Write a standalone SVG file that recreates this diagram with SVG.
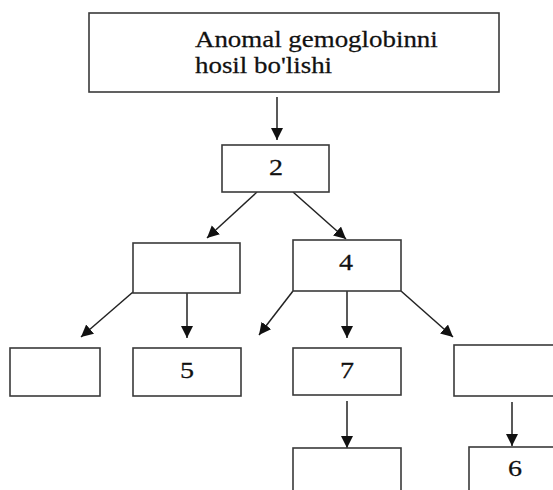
<svg xmlns="http://www.w3.org/2000/svg" width="553" height="490" viewBox="0 0 553 490">
<style>
.box{fill:#fff;stroke:#3a3a3a;stroke-width:1.6}
.lbl{font-family:"Liberation Serif","Times New Roman",serif;font-size:23px;fill:#111;stroke:#111;stroke-width:0.25}
.num{font-family:"Liberation Serif","Times New Roman",serif;font-size:24px;fill:#111;stroke:#111;stroke-width:0.25;text-anchor:middle}
.con{stroke:#222;stroke-width:1.5;fill:none;marker-end:url(#ah)}
</style>
<defs>
<marker id="ah" markerUnits="userSpaceOnUse" markerWidth="14" markerHeight="14" refX="12" refY="6" orient="auto">
<path d="M0,0 L12,6 L0,12 z" fill="#111"/>
</marker>
</defs>
<rect width="553" height="490" fill="#fff"/>
<g id="connectors">
<line class="con" x1="277" y1="97" x2="277" y2="140"/>
<line class="con" x1="257" y1="192" x2="207" y2="238"/>
<line class="con" x1="293" y1="192" x2="346" y2="239"/>
<line class="con" x1="133" y1="292" x2="81" y2="337"/>
<line class="con" x1="187" y1="290" x2="187" y2="338"/>
<line class="con" x1="293" y1="291" x2="259" y2="335"/>
<line class="con" x1="347" y1="291" x2="347" y2="338"/>
<line class="con" x1="401" y1="291" x2="453" y2="337"/>
<line class="con" x1="347" y1="401" x2="347" y2="448"/>
<line class="con" x1="512" y1="402" x2="512" y2="446"/>
</g>
<g id="n1">
<rect class="box" x="89" y="13" width="410" height="79"/>
<text class="lbl" transform="translate(195,47) scale(1.17,1)">Anomal gemoglobinni</text>
<text class="lbl" transform="translate(195,73) scale(1.17,1)">hosil bo'lishi</text>
</g>
<g id="n2">
<rect class="box" x="222" y="145" width="107" height="47"/>
<text class="num" transform="translate(276,175) scale(1.17,1)">2</text>
</g>
<g id="n3">
<rect class="box" x="133" y="243" width="107" height="50"/>
</g>
<g id="n4">
<rect class="box" x="293" y="240" width="108" height="51"/>
<text class="num" transform="translate(346,270) scale(1.17,1)">4</text>
</g>
<g id="n5">
<rect class="box" x="10" y="348" width="90" height="48"/>
</g>
<g id="n6">
<rect class="box" x="133" y="348" width="108" height="48"/>
<text class="num" transform="translate(187,378) scale(1.17,1)">5</text>
</g>
<g id="n7">
<rect class="box" x="293" y="348" width="108" height="47"/>
<text class="num" transform="translate(347,378) scale(1.17,1)">7</text>
</g>
<g id="n8">
<rect class="box" x="454" y="345" width="110" height="51"/>
</g>
<g id="n9">
<rect class="box" x="293" y="448" width="108" height="60"/>
</g>
<g id="n10">
<rect class="box" x="469" y="447" width="100" height="60"/>
<text class="num" transform="translate(515,476) scale(1.17,1)">6</text>
</g>
</svg>
